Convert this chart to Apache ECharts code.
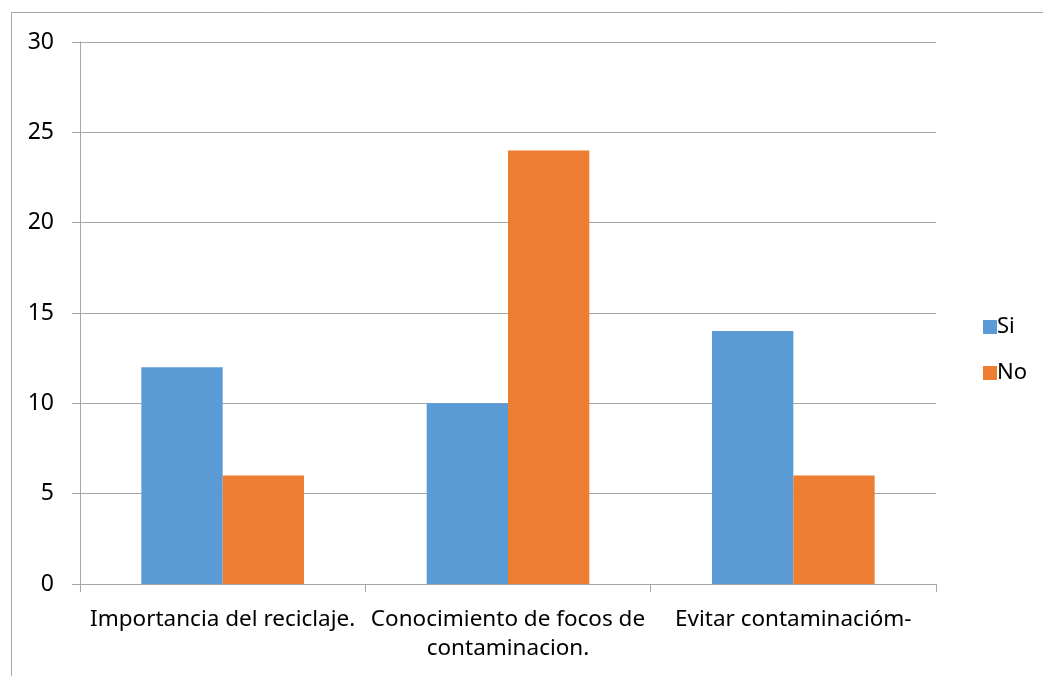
<!DOCTYPE html>
<html><head><meta charset="utf-8">
<script src="https://cdn.jsdelivr.net/npm/echarts@6/dist/echarts.min.js"></script>
<style>html,body{margin:0;padding:0;background:#fff}#c{width:1043px;height:676px}</style>
</head><body><div id="c"></div>
<script>
const categories = ["Importancia del reciclaje.", "Conocimiento de focos de\ncontaminacion.", "Evitar contaminacióm-"];
const siValues = [12, 10, 14];
const noValues = [6, 24, 6];
const yTicks = {min: 0, max: 30, interval: 5};
const font = "Noto Sans";
const chart = echarts.init(document.getElementById('c'));
chart.setOption({
  animation: false,
  textStyle: {fontFamily: font},
  graphic: [{type: 'rect', shape: {x: 11.5, y: 12.5, width: 1200, height: 800}, style: {fill: 'none', stroke: '#a6a6a6', lineWidth: 1}, silent: true}],
  grid: {left: 80, right: 107, top: 42, bottom: 92, containLabel: false},
  legend: {orient: 'vertical', left: 978, top: 311, itemWidth: 14, itemHeight: 14, itemGap: 24, icon: 'rect',
    textStyle: {fontSize: 22, lineHeight: 18, color: '#000', fontFamily: font, padding: [0,0,0,-5]}, data: ['Si', 'No']},
  xAxis: {type: 'category', data: categories,
    axisLine: {lineStyle: {color: '#a6a6a6'}},
    axisTick: {show: true, length: 8, lineStyle: {color: '#a6a6a6'}},
    axisLabel: {fontSize: 22.5, color: '#000', margin: 21, lineHeight: 29, interval: 0, fontFamily: font}},
  yAxis: {type: 'value', min: yTicks.min, max: yTicks.max, interval: yTicks.interval,
    axisLine: {show: true, lineStyle: {color: '#a6a6a6'}},
    axisTick: {show: true, length: 8, lineStyle: {color: '#a6a6a6'}},
    splitLine: {lineStyle: {color: '#a6a6a6'}},
    axisLabel: {fontSize: 23, color: '#000', margin: 26, fontFamily: font}},
  series: [
    {name: 'Si', type: 'bar', data: siValues, itemStyle: {color: '#5B9BD5'}, barGap: '0%', barCategoryGap: '43%'},
    {name: 'No', type: 'bar', data: noValues, itemStyle: {color: '#ED7D31'}, barGap: '0%', barCategoryGap: '43%'}
  ]
});
</script></body></html>
